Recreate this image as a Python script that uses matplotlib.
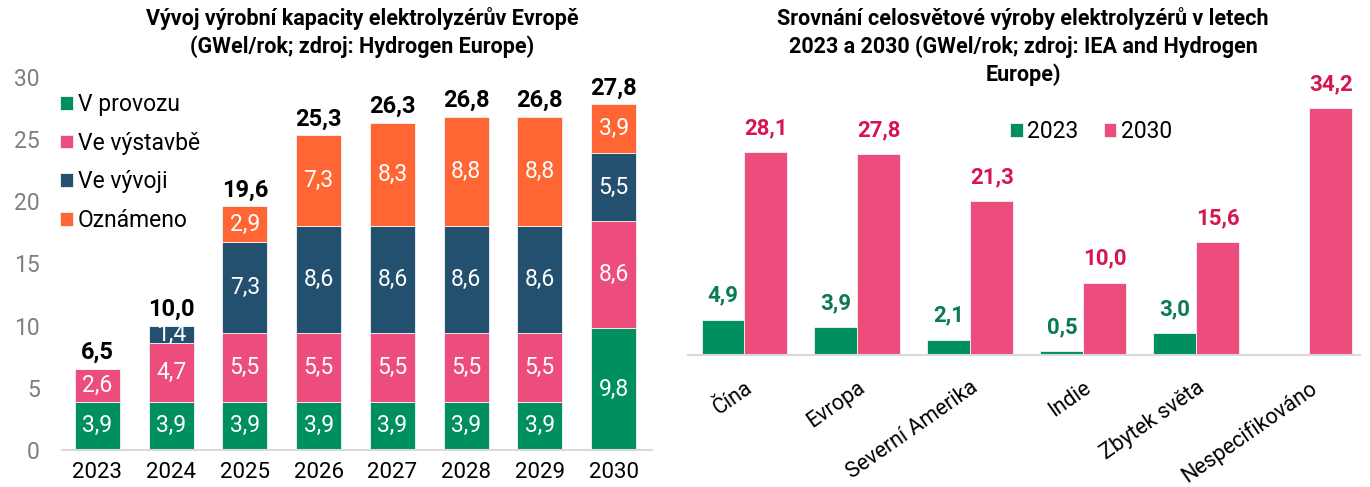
import matplotlib.pyplot as plt
import numpy as np

plt.rcParams['font.family'] = ['Roboto', 'DejaVu Sans']

# Left chart data
years = ['2023', '2024', '2025', '2026', '2027', '2028', '2029', '2030']
v_provozu = [3.9, 3.9, 3.9, 3.9, 3.9, 3.9, 3.9, 9.8]
ve_vystavbe = [2.6, 4.7, 5.5, 5.5, 5.5, 5.5, 5.5, 8.6]
ve_vyvoji = [0, 1.4, 7.3, 8.6, 8.6, 8.6, 8.6, 5.5]
oznameno = [0, 0, 2.9, 7.3, 8.3, 8.8, 8.8, 3.9]
totals = [6.5, 10.0, 19.6, 25.3, 26.3, 26.8, 26.8, 27.8]

# Right chart data
regions = ['Čína', 'Evropa', 'Severní Amerika', 'Indie', 'Zbytek světa', 'Nespecifikováno']
vyroba_2023 = [4.9, 3.9, 2.1, 0.5, 3.0, np.nan]
vyroba_2030 = [28.1, 27.8, 21.3, 10.0, 15.6, 34.2]

c_green = '#008F5F'
c_pink = '#EC4D7C'
c_navy = '#24506F'
c_orange = '#FF6633'

def fmt(v):
    return '{:.1f}'.format(v).replace('.', ',')

fig = plt.figure(figsize=(13.7, 4.87), dpi=100)

# ---------------- left: stacked bars ----------------
ax1 = fig.add_axes([62/1370, 37/487, 590/1370, 373/487])
x = np.arange(len(years))
w = 0.61
series = [(v_provozu, c_green, 'V provozu'), (ve_vystavbe, c_pink, 'Ve výstavbě'),
          (ve_vyvoji, c_navy, 'Ve vývoji'), (oznameno, c_orange, 'Oznámeno')]
bottom = np.zeros(len(years))
for vals, col, lab in series:
    vals = np.array(vals, dtype=float)
    ax1.bar(x, vals, w, bottom=bottom, color=col, label=lab, edgecolor='#F4F4F4', linewidth=0.6)
    for xi, b, v in zip(x, bottom, vals):
        if v > 0:
            ax1.text(xi, b + v/2, fmt(v), ha='center', va='center', color='white', fontsize=16.5)
    bottom += vals
for xi, t in zip(x, totals):
    ax1.text(xi, t + 0.4, fmt(t), ha='center', va='bottom', fontsize=17, fontweight='bold')

ax1.set_xlim(-0.48, 7.52)
ax1.set_ylim(0, 30)
ax1.set_yticks(range(0, 31, 5))
ax1.set_xticks(x)
ax1.set_xticklabels(years)
ax1.tick_params(axis='y', length=0, labelsize=16.5, labelcolor='#7F7F7F', pad=16)
ax1.tick_params(axis='x', length=0, labelsize=16, pad=9)
for s in ['top', 'right', 'left']:
    ax1.spines[s].set_visible(False)
ax1.spines['bottom'].set_color('#D9D9D9')
ax1.spines['bottom'].set_linewidth(1.5)
ax1.legend(loc='upper left', bbox_to_anchor=(-0.03, 1.0), frameon=False, fontsize=16.5,
           handlelength=0.55, handleheight=0.55, handletextpad=0.2, labelspacing=0.68,
           borderaxespad=0.3)

fig.text(362/1370, 1 - 7/487, 'Vývoj výrobní kapacity elektrolyzérův Evropě\n(GWel/rok; zdroj: Hydrogen Europe)',
         ha='center', va='top', fontsize=15.5, fontweight='semibold', linespacing=1.3)

# ---------------- right: grouped bars ----------------
ax2 = fig.add_axes([688/1370, 132/487, 672/1370, 252.7/487])
xr = np.arange(len(regions))
wr = 0.38
ax2.bar(xr - wr/2, vyroba_2023, wr, color=c_green, label='2023', edgecolor='#F4F4F4', linewidth=0.6)
ax2.bar(xr + wr/2, vyroba_2030, wr, color=c_pink, label='2030', edgecolor='#F4F4F4', linewidth=0.6)
for xi, v in zip(xr, vyroba_2023):
    if not np.isnan(v):
        ax2.text(xi - wr/2, v + 1.8, fmt(v), ha='center', va='bottom', color='#0B7A50',
                 fontsize=16, fontweight='bold')
for xi, v in zip(xr, vyroba_2030):
    ax2.text(xi + wr/2, v + 1.8, fmt(v), ha='center', va='bottom', color='#D6174F',
             fontsize=16, fontweight='bold', clip_on=False)

ax2.set_xlim(-0.5, 5.45)
ax2.set_ylim(0, 35)
ax2.set_yticks([])
ax2.set_xticks(xr)
ax2.set_xticklabels(regions, rotation=35, ha='right', rotation_mode='anchor')
ax2.tick_params(axis='x', length=0, labelsize=15.5, pad=16)
for s in ['top', 'right', 'left']:
    ax2.spines[s].set_visible(False)
ax2.spines['bottom'].set_color('#D9D9D9')
ax2.spines['bottom'].set_linewidth(1.5)
ax2.legend(loc='center', bbox_to_anchor=(0.6, 0.885), ncol=2, frameon=False, fontsize=16.5,
           handlelength=0.55, handleheight=0.55, handletextpad=0.2, columnspacing=1.1)

fig.text(1023/1370, 1 - 7/487,
         'Srovnání celosvětové výroby elektrolyzérů v letech\n2023 a 2030 (GWel/rok; zdroj: IEA and Hydrogen\nEurope)',
         ha='center', va='top', fontsize=15.5, fontweight='semibold', linespacing=1.3)

plt.savefig('out.png', dpi=100)
